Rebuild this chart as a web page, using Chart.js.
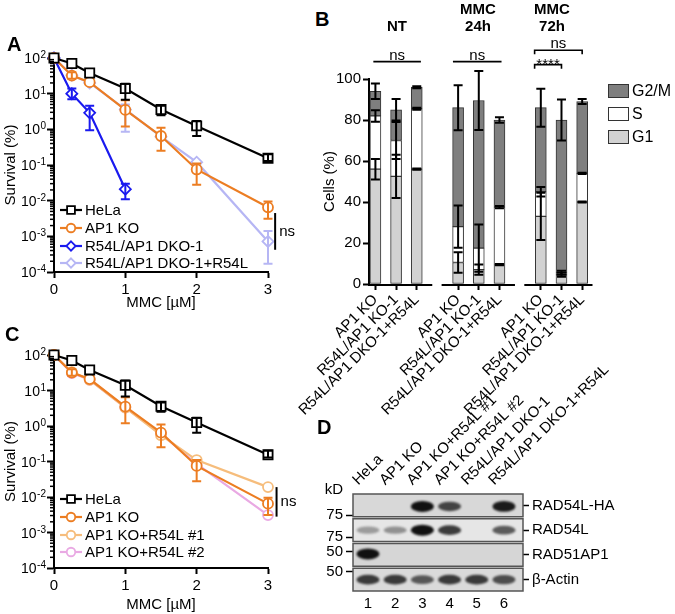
<!DOCTYPE html>
<html lang="en">
<head>
<meta charset="UTF-8">
<title>MMC survival, cell cycle and western blot</title>
<script src="https://cdn.jsdelivr.net/npm/chart.js"></script>
<style>
    body { margin: 0; background: #fff; }
    #wrap { position: relative; width: 675px; height: 614px; overflow: hidden; font-family: 'Liberation Sans', Arial, sans-serif; }
    canvas { position: absolute; }
    .lbl { position: absolute; font-weight: bold; font-size: 20px; line-height: 20px; }
    .hdr { position: absolute; font-weight: bold; font-size: 15px; line-height: 15px; width: 60px; text-align: center; }
    .leg { position: absolute; left: 608px; font-size: 16px; line-height: 14px; }
    .leg span { display: inline-block; width: 19px; height: 12px; border: 1px solid #333; vertical-align: top; margin-right: 3px; }
</style>
</head>
<body>
<div id="wrap">
    <canvas id="chartA" width="330" height="282" style="left:0;top:30px"></canvas>
    <canvas id="chartC" width="330" height="289" style="left:0;top:325px"></canvas>
    <canvas id="chartB" width="385" height="380" style="left:290px;top:40px"></canvas>
    <canvas id="chartD" width="375" height="254" style="left:300px;top:360px"></canvas>

    <div class="lbl" style="left:7px;top:34px">A</div>
    <div class="lbl" style="left:315px;top:9px">B</div>
    <div class="lbl" style="left:5px;top:324px">C</div>
    <div class="lbl" style="left:317px;top:417px">D</div>

    <div class="hdr" style="left:367px;top:18px">NT</div>
    <div class="hdr" style="left:448px;top:1px">MMC</div>
    <div class="hdr" style="left:448px;top:18px">24h</div>
    <div class="hdr" style="left:522px;top:1px">MMC</div>
    <div class="hdr" style="left:522px;top:18px">72h</div>

    <div class="leg" style="top:84px"><span style="background:#7f7f7f"></span>G2/M</div>
    <div class="leg" style="top:107px"><span style="background:#fff"></span>S</div>
    <div class="leg" style="top:130px"><span style="background:#d2d2d2"></span>G1</div>
</div>
<script>
    // ---- A / C : clonogenic survival after MMC ----
    const doses = [0, 0.25, 0.5, 1, 1.5, 2, 3];
    const dosesShort = [0, 0.25, 0.5, 1];
    const yDecades = [-4, -3, -2, -1, 0, 1, 2];

    const helaSurv = [100, 70, 38, 14, 3.6, 1.25, 0.155];
    const helaLo = [null, null, null, 6.8, 2.5, 0.65, 0.13];
    const helaHi = [null, null, null, 19, 4.6, 1.7, 0.2];

    const ap1Surv = [100, 32, 21, 3.5, 0.65, 0.075, 0.0065];
    const ap1Lo = [null, 26, null, 1.2, 0.25, 0.028, 0.0031];
    const ap1Hi = [null, 40, null, 6.5, 1.1, 0.11, 0.0095];

    const dkoSurv = [100, 10, 2.9, 0.021];
    const dkoLo = [null, 7, 0.95, 0.011];
    const dkoHi = [null, 14, 4.6, 0.03];

    const dkoResSurv = [100, 33, 20, 3.6, 0.62, 0.12, 0.00072];
    const dkoResLo = [null, null, null, 0.85, null, null, 0.00017];
    const dkoResHi = [null, null, null, 5, null, null, 0.0014];

    const res1Surv = [100, 33, 20, 3.3, 0.55, 0.11, 0.019];
    const res2Surv = [100, 31, 20, 3.3, 0.6, 0.085, 0.0031];

    // ---- B : cell cycle distribution ----
    const barLabels = ['AP1 KO', 'R54L/AP1 KO-1', 'R54L/AP1 DKO-1+R54L', '',
        'AP1 KO', 'R54L/AP1 KO-1', 'R54L/AP1 DKO-1+R54L', '',
        'AP1 KO', 'R54L/AP1 KO-1', 'R54L/AP1 DKO-1+R54L'];
    const g1 = [56, 52.5, 56, null, 10.5, 7, 9.5, null, 33, 4.5, 40];
    const sPhase = [26, 17.5, 29.5, null, 17.5, 10.5, 28, null, 12, 1, 14];
    const g2m = [12, 15, 10.5, null, 58, 72, 42.5, null, 41, 74.5, 35];
    const g1Err = [5, 10.5, 0.3, null, 5, 2.5, 0.3, null, 11.5, 1, 0.3];
    const sErr = [2.8, 9, 0.5, null, 10.3, 11.5, 0.5, null, 2.3, 1, 0.3];
    const g2mErr = [3.8, 5.3, 0.5, null, 11, 14.4, 1.3, null, 9.3, 10, 1.2];
    const sigFrom = [-0.1, 3.75, 7.7, 7.7];
    const sigTo = [2.2, 6.1, 10, 9];
    const sigLevel = [108.5, 108.5, 114, 107];
    const sigText = ['ns', 'ns', 'ns', '****'];

    // ---- D : western blot ----
    const lanes = [1, 2, 3, 4, 5, 6];
    const laneNames = ['HeLa', 'AP1 KO', 'AP1 KO+R54L #1', 'AP1 KO+R54L #2', 'R54L/AP1 DKO-1', 'R54L/AP1 DKO-1+R54L'];
    const proteins = ['RAD54L-HA', 'RAD54L', 'RAD51AP1', 'β-Actin'];
    const haBands = [0, 0, 1, 0.75, 0, 0.95];
    const rad54Bands = [0.35, 0.4, 1, 0.8, 0, 0.65];
    const ap1Bands = [1, 0, 0, 0, 0, 0];
    const actinBands = [0.8, 0.8, 0.65, 0.8, 0.8, 0.7];
    const markerPos = [-0.62, 0.39, 1.28, 1.88, 2.69];
    const markerLabels = ['kD', '75', '75', '50', '50'];

    const FONT = "'Liberation Sans', Arial, sans-serif";
    Chart.defaults.font.family = FONT;
    Chart.defaults.color = '#000';
    Chart.defaults.animation = false;
    Chart.defaults.plugins.legend.display = false;
    Chart.defaults.plugins.tooltip.enabled = false;

    function drawMarker(ctx, style, x, y, r, color, lw) {
        ctx.save();
        ctx.beginPath();
        if (style === 'rect') {
            const h = r * Math.SQRT1_2;
            ctx.rect(x - h, y - h, 2 * h, 2 * h);
        } else if (style === 'rectRot') {
            ctx.moveTo(x, y - r); ctx.lineTo(x + r, y); ctx.lineTo(x, y + r); ctx.lineTo(x - r, y);
            ctx.closePath();
        } else {
            ctx.arc(x, y, r, 0, Math.PI * 2);
        }
        ctx.fillStyle = '#fff';
        ctx.fill();
        ctx.strokeStyle = color;
        ctx.lineWidth = lw;
        ctx.stroke();
        ctx.restore();
    }

    // error bars for the survival curves
    const survErrors = {
        id: 'survErrors',
        afterDatasetDraw(chart, args) {
            const ds = chart.data.datasets[args.index];
            if (!ds.lo) return;
            const ctx = chart.ctx, y = chart.scales.y;
            ctx.save();
            ctx.strokeStyle = ds.borderColor;
            ctx.lineWidth = 2;
            args.meta.data.forEach((pt, i) => {
                if (ds.lo[i] == null && ds.hi[i] == null) return;
                const v = ds.data[i].y;
                const top = y.getPixelForValue(ds.hi[i] != null ? ds.hi[i] : v);
                const bot = y.getPixelForValue(ds.lo[i] != null ? ds.lo[i] : v);
                ctx.beginPath();
                ctx.moveTo(pt.x, top); ctx.lineTo(pt.x, bot);
                if (ds.hi[i] != null) { ctx.moveTo(pt.x - 4.5, top); ctx.lineTo(pt.x + 4.5, top); }
                if (ds.lo[i] != null) { ctx.moveTo(pt.x - 4.5, bot); ctx.lineTo(pt.x + 4.5, bot); }
                ctx.stroke();
            });
            ctx.restore();
        }
    };

    // 10^n labels, minor ticks, inside legend and ns bracket
    const survDecor = {
        id: 'survDecor',
        afterDraw(chart, args, opts) {
            const ctx = chart.ctx, y = chart.scales.y, x = chart.scales.x, a = chart.chartArea;
            ctx.save();
            ctx.fillStyle = '#000';
            ctx.strokeStyle = '#000';
            ctx.lineWidth = 1.5;
            for (let e = -4; e < 2; e++) {
                for (let j = 2; j < 10; j++) {
                    const py = y.getPixelForValue(j * Math.pow(10, e));
                    ctx.beginPath(); ctx.moveTo(a.left - 4, py); ctx.lineTo(a.left, py); ctx.stroke();
                }
            }
            ctx.textAlign = 'right';
            ctx.textBaseline = 'alphabetic';
            yDecades.forEach(e => {
                const py = y.getPixelForValue(Math.pow(10, e));
                const right = a.left - 8;
                ctx.font = '10px ' + FONT;
                const ex = String(e);
                const w = ctx.measureText(ex).width;
                ctx.fillText(ex, right, py);
                ctx.font = '14px ' + FONT;
                ctx.fillText('10', right - w - 0.5, py + 5);
            });

            // legend inside the plot
            ctx.textAlign = 'left';
            ctx.textBaseline = 'middle';
            ctx.font = '15px ' + FONT;
            chart.data.datasets.forEach((ds, i) => {
                const ly = a.bottom - opts.legendRows[i];
                const lx = a.left + 6;
                ctx.strokeStyle = ds.borderColor;
                ctx.lineWidth = ds.borderWidth;
                ctx.beginPath(); ctx.moveTo(lx, ly); ctx.lineTo(lx + 22, ly); ctx.stroke();
                drawMarker(ctx, ds.pointStyle, lx + 11, ly, ds.pointRadius * 0.85, ds.borderColor, ds.pointBorderWidth);
                ctx.fillStyle = '#000';
                ctx.fillText(ds.label, lx + 25, ly + 1);
            });

            // ns bracket
            const bx = x.getPixelForValue(opts.bracketX);
            const b0 = y.getPixelForValue(opts.bracketHi), b1 = y.getPixelForValue(opts.bracketLo);
            ctx.strokeStyle = '#000';
            ctx.lineWidth = 2;
            ctx.beginPath(); ctx.moveTo(bx, b0); ctx.lineTo(bx, b1); ctx.stroke();
            ctx.fillText('ns', bx + 4, (b0 + b1) / 2);
            ctx.restore();
        }
    };

    function survSet(label, xs, ys, lo, hi, color, style, radius) {
        return {
            label: label,
            data: xs.map((v, i) => ({ x: v, y: ys[i] })),
            lo: lo, hi: hi,
            borderColor: color,
            backgroundColor: color,
            borderWidth: 2.2,
            pointStyle: style,
            pointRadius: radius,
            pointBorderWidth: 1.8,
            pointBackgroundColor: '#fff',
            clip: false
        };
    }

    function survivalChart(id, datasets, padTop, xHeight, legendRows, bracket) {
        return new Chart(document.getElementById(id), {
            type: 'line',
            data: { datasets: datasets },
            options: {
                responsive: false,
                devicePixelRatio: 1,
                layout: { padding: { top: padTop, right: 62, left: 0, bottom: 0 } },
                scales: {
                    x: {
                        type: 'linear', min: 0, max: 3,
                        afterFit: s => { s.height = xHeight; },
                        ticks: { stepSize: 1, font: { size: 15 }, padding: 3 },
                        grid: { drawOnChartArea: false, tickLength: 6, tickWidth: 2, tickColor: '#000' },
                        border: { color: '#000', width: 2 },
                        title: { display: true, text: 'MMC [µM]', font: { size: 15 }, padding: { top: 0, bottom: 0 } }
                    },
                    y: {
                        type: 'logarithmic', min: 1e-4, max: 100,
                        afterFit: s => { s.width = 54; },
                        afterBuildTicks: s => { s.ticks = yDecades.map(e => ({ value: Math.pow(10, e) })); },
                        ticks: { callback: () => '' },
                        grid: { drawOnChartArea: false, tickLength: 7, tickWidth: 2, tickColor: '#000' },
                        border: { color: '#000', width: 2 },
                        title: { display: true, text: 'Survival (%)', font: { size: 15 }, padding: { top: 2, bottom: 0 } }
                    }
                },
                plugins: {
                    survDecor: Object.assign({ legendRows: legendRows }, bracket)
                }
            },
            plugins: [survErrors, survDecor]
        });
    }

    survivalChart('chartA', [
        survSet('HeLa', doses, helaSurv, helaLo, helaHi, '#000000', 'rect', 6.5),
        survSet('AP1 KO', doses, ap1Surv, ap1Lo, ap1Hi, '#ec7d22', 'circle', 5),
        survSet('R54L/AP1 DKO-1', dosesShort, dkoSurv, dkoLo, dkoHi, '#1a1aef', 'rectRot', 5.5),
        survSet('R54L/AP1 DKO-1+R54L', doses, dkoResSurv, dkoResLo, dkoResHi, '#b6b6f4', 'rectRot', 5.5)
    ], 28, 40, [62, 44, 26, 9], { bracketX: 3.1, bracketHi: 0.0045, bracketLo: 0.00042 });

    survivalChart('chartC', [
        survSet('HeLa', doses, helaSurv, helaLo, helaHi, '#000000', 'rect', 6.5),
        survSet('AP1 KO', doses, ap1Surv, ap1Lo, ap1Hi, '#ec7d22', 'circle', 5),
        survSet('AP1 KO+R54L #1', doses, res1Surv, null, null, '#f6bd7c', 'circle', 5),
        survSet('AP1 KO+R54L #2', doses, res2Surv, null, null, '#e9a9e3', 'circle', 5)
    ], 30, 46, [69, 51, 33, 16], { bracketX: 3.12, bracketHi: 0.019, bracketLo: 0.0028 });

    // ---- B ----
    const stackErrors = {
        id: 'stackErrors',
        afterDatasetsDraw(chart) {
            const ctx = chart.ctx, y = chart.scales.y, x = chart.scales.x, a = chart.chartArea;
            ctx.save();
            ctx.strokeStyle = '#000';
            ctx.lineWidth = 2;
            // broken x axis, one piece per group
            [[-0.31, 2.75], [3.25, 6.75], [7.25, 10.5]].forEach(seg => {
                ctx.beginPath();
                ctx.moveTo(x.getPixelForValue(seg[0]) - 1, a.bottom + 1);
                ctx.lineTo(x.getPixelForValue(seg[1]), a.bottom + 1);
                ctx.stroke();
            });
            const sets = chart.data.datasets;
            sets.forEach((ds, d) => {
                const meta = chart.getDatasetMeta(d);
                ds.data.forEach((v, i) => {
                    if (v == null) return;
                    let cum = 0;
                    for (let k = 0; k <= d; k++) cum += sets[k].data[i];
                    const px = meta.data[i].x;
                    const t = y.getPixelForValue(cum + ds.err[i]);
                    const b = y.getPixelForValue(cum - ds.err[i]);
                    ctx.beginPath();
                    ctx.moveTo(px, t); ctx.lineTo(px, b);
                    ctx.moveTo(px - 4.5, t); ctx.lineTo(px + 4.5, t);
                    ctx.moveTo(px - 4.5, b); ctx.lineTo(px + 4.5, b);
                    ctx.stroke();
                });
            });
            // significance lines
            ctx.lineWidth = 1.6;
            ctx.fillStyle = '#000';
            ctx.textAlign = 'center';
            ctx.textBaseline = 'alphabetic';
            ctx.font = '15px ' + FONT;
            sigText.forEach((txt, i) => {
                const x0 = x.getPixelForValue(sigFrom[i]), x1 = x.getPixelForValue(sigTo[i]);
                const py = y.getPixelForValue(sigLevel[i]);
                const drop = i >= 2 ? 4 : 0;
                ctx.beginPath();
                ctx.moveTo(x0, py + drop); ctx.lineTo(x0, py); ctx.lineTo(x1, py); ctx.lineTo(x1, py + drop);
                ctx.stroke();
                ctx.fillText(txt, (x0 + x1) / 2, txt === 'ns' ? py - 2 : py + 4);
            });
            ctx.restore();
        }
    };

    const phaseStyle = { borderColor: '#333', borderWidth: 1, borderSkipped: false, barThickness: 11 };
    new Chart(document.getElementById('chartB'), {
        type: 'bar',
        data: {
            labels: barLabels,
            datasets: [
                Object.assign({ label: 'G1', data: g1, err: g1Err, backgroundColor: '#d2d2d2' }, phaseStyle),
                Object.assign({ label: 'S', data: sPhase, err: sErr, backgroundColor: '#ffffff' }, phaseStyle),
                Object.assign({ label: 'G2/M', data: g2m, err: g2mErr, backgroundColor: '#7f7f7f' }, phaseStyle)
            ]
        },
        options: {
            responsive: false,
            devicePixelRatio: 1,
            layout: { padding: { top: 39, right: 82.5, left: 0, bottom: 0 } },
            scales: {
                x: {
                    stacked: true,
                    offset: true,
                    afterBuildTicks: s => { s._startValue = -0.31; s._valueRange = 10.81; },
                    afterFit: s => { s.height = 136; },
                    ticks: { autoSkip: false, minRotation: 45, maxRotation: 45, font: { size: 15 }, padding: 1 },
                    grid: {
                        offset: false, drawOnChartArea: false, tickLength: 6, tickWidth: 2,
                        tickColor: c => (barLabels[c.index] ? '#000' : 'rgba(0,0,0,0)')
                    },
                    border: { display: false }
                },
                y: {
                    stacked: true, min: 0, max: 100,
                    afterFit: s => { s.width = 79; },
                    ticks: { stepSize: 20, font: { size: 15 }, padding: 2 },
                    grid: { drawOnChartArea: false, tickLength: 6, tickWidth: 2, tickColor: '#000' },
                    border: { color: '#000', width: 2 },
                    title: { display: true, text: 'Cells (%)', font: { size: 15 }, padding: { top: 31, bottom: 0 } }
                }
            }
        },
        plugins: [stackErrors]
    });

    // ---- D ----
    const blot = {
        id: 'blot',
        beforeDatasetsDraw(chart) {
            const ctx = chart.ctx, y = chart.scales.y, a = chart.chartArea;
            chart.data.datasets.forEach((ds, r) => {
                const top = y.getPixelForValue(r - 0.5) + 1;
                const bot = y.getPixelForValue(r + 0.5) - 1;
                ctx.save();
                ctx.fillStyle = ds.rowColor;
                ctx.fillRect(a.left, top, a.right - a.left, bot - top);
                ctx.beginPath();
                ctx.rect(a.left, top, a.right - a.left, bot - top);
                ctx.clip();
                ctx.filter = 'blur(1.3px)';
                chart.getDatasetMeta(r).data.forEach((pt, i) => {
                    const v = ds.bands[i];
                    if (!v) return;
                    ctx.globalAlpha = v;
                    ctx.fillStyle = '#111';
                    ctx.beginPath();
                    ctx.ellipse(pt.x, pt.y + ds.bandShift, 11.5, 2.5 + 3 * v, 0, 0, Math.PI * 2);
                    ctx.fill();
                });
                ctx.restore();
                ctx.save();
                ctx.strokeStyle = '#555';
                ctx.lineWidth = 1.5;
                ctx.strokeRect(a.left, top, a.right - a.left, bot - top);
                ctx.restore();
            });
        }
    };

    const rowColors = ['#d8d8d8', '#e6e6e6', '#d6d6d6', '#dadada'];
    const rowShift = [1, 0, -1, 0];
    new Chart(document.getElementById('chartD'), {
        type: 'scatter',
        data: {
            datasets: [haBands, rad54Bands, ap1Bands, actinBands].map((b, r) => ({
                label: proteins[r],
                data: lanes.map(l => ({ x: l, y: r })),
                bands: b,
                rowColor: rowColors[r],
                bandShift: rowShift[r],
                pointRadius: 0,
                clip: false
            }))
        },
        options: {
            responsive: false,
            devicePixelRatio: 1,
            layout: { padding: 0 },
            scales: {
                x: {
                    type: 'linear', min: 0.45, max: 6.7,
                    afterBuildTicks: s => { s.ticks = lanes.map(v => ({ value: v })); },
                    afterFit: s => { s.height = 22; },
                    ticks: { font: { size: 15 }, padding: 3, callback: v => String(v) },
                    grid: { display: false, drawTicks: false },
                    border: { display: false }
                },
                xTop: {
                    type: 'linear', axis: 'x', position: 'top', min: 0.45, max: 6.7,
                    afterBuildTicks: s => { s.ticks = lanes.map(v => ({ value: v })); },
                    afterFit: s => { s.height = 133; },
                    ticks: { font: { size: 15 }, padding: 4, minRotation: 45, maxRotation: 45, autoSkip: false,
                        callback: v => laneNames[lanes.indexOf(v)] },
                    grid: { display: false, drawTicks: false },
                    border: { display: false }
                },
                y: {
                    type: 'linear', reverse: true, min: -0.5, max: 3.5,
                    afterBuildTicks: s => { s.ticks = markerPos.map(v => ({ value: v })); },
                    afterFit: s => { s.width = 53; },
                    ticks: { font: { size: 15 }, padding: 3, callback: v => markerLabels[markerPos.indexOf(v)] },
                    grid: { drawOnChartArea: false, tickLength: 7, tickWidth: 1.5,
                        tickColor: c => (c.tick && c.tick.value < -0.5 ? 'rgba(0,0,0,0)' : '#000') },
                    border: { display: false }
                },
                yRight: {
                    type: 'linear', axis: 'y', position: 'right', reverse: true, min: -0.5, max: 3.5,
                    afterBuildTicks: s => { s.ticks = proteins.map((p, i) => ({ value: i })); },
                    afterFit: s => { s.width = 152; },
                    ticks: { font: { size: 15 }, padding: 3, callback: v => proteins[v] },
                    grid: { drawOnChartArea: false, tickLength: 6, tickWidth: 1.5, tickColor: '#000' },
                    border: { display: false }
                }
            }
        },
        plugins: [blot]
    });
</script>
</body>
</html>
